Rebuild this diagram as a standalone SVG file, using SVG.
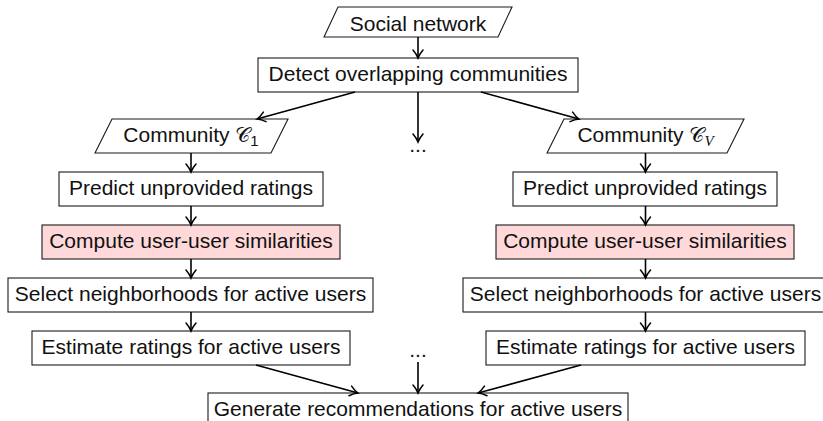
<svg xmlns="http://www.w3.org/2000/svg" width="823" height="421" viewBox="0 0 823 421">
  <style>
    .box { fill: #fff; stroke: #1a1a1a; stroke-width: 1.1; }
    .hl { fill: #ffd9d9; }
    .lbl { font-family: "Liberation Sans", Arial, sans-serif; font-size: 21px; fill: #111; text-anchor: middle; }
    .cal { font-family: "DejaVu Serif", "Noto Sans", serif; }
    .sub { font-size: 15px; }
    .it { font-family: "Liberation Serif", serif; font-style: italic; }
    .edge { stroke: #000; stroke-width: 1.6; fill: none; marker-end: url(#tip); }
  </style>
  <defs>
    <marker id="tip" viewBox="-10 -7 12 14" refX="0" refY="0" markerWidth="12" markerHeight="14" orient="auto" markerUnits="userSpaceOnUse">
      <path d="M-8,-5 C-5,-2.4 -1.6,-0.6 0,0 C-1.6,0.6 -5,2.4 -8,5" fill="none" stroke="#000" stroke-width="1.5" stroke-linecap="round"/>
    </marker>
  </defs>

  <rect width="823" height="421" fill="#fff"/>

  <!-- input -->
  <g id="social">
    <polygon class="box" points="324,37 338,7 512,7 498,37"/>
    <text class="lbl" x="418" y="30.5">Social network</text>
  </g>
  <g id="detect">
    <rect class="box" x="258" y="58" width="320" height="34"/>
    <text class="lbl" x="418" y="81">Detect overlapping communities</text>
  </g>

  <!-- first community branch -->
  <g id="community1">
    <polygon class="box" points="95,153 112,119 288,119 271,153"/>
    <text class="lbl" x="191" y="142">Community <tspan class="cal">𝒞</tspan><tspan class="sub" dy="4">1</tspan></text>
  </g>
  <g id="predict1">
    <rect class="box" x="59" y="172" width="264" height="34"/>
    <text class="lbl" x="191" y="195">Predict unprovided ratings</text>
  </g>
  <g id="similar1">
    <rect class="box hl" x="42" y="225" width="298" height="34"/>
    <text class="lbl" x="191" y="248">Compute user-user similarities</text>
  </g>
  <g id="neigh1">
    <rect class="box" x="8" y="278" width="365" height="34"/>
    <text class="lbl" x="190.5" y="301">Select neighborhoods for active users</text>
  </g>
  <g id="estimate1">
    <rect class="box" x="32" y="331" width="318" height="34"/>
    <text class="lbl" x="191" y="354">Estimate ratings for active users</text>
  </g>

  <!-- last community branch -->
  <g id="communityV">
    <polygon class="box" points="547,153 564,119 744,119 727,153"/>
    <text class="lbl" x="645.5" y="142">Community <tspan class="cal">𝒞</tspan><tspan class="sub it" dy="4">V</tspan></text>
  </g>
  <g id="predictV">
    <rect class="box" x="513" y="172" width="264" height="34"/>
    <text class="lbl" x="645" y="195">Predict unprovided ratings</text>
  </g>
  <g id="similarV">
    <rect class="box hl" x="496" y="225" width="298" height="34"/>
    <text class="lbl" x="645" y="248">Compute user-user similarities</text>
  </g>
  <g id="neighV">
    <rect class="box" x="463" y="278" width="365" height="34"/>
    <text class="lbl" x="645.5" y="301">Select neighborhoods for active users</text>
  </g>
  <g id="estimateV">
    <rect class="box" x="486" y="331" width="319" height="34"/>
    <text class="lbl" x="645.5" y="354">Estimate ratings for active users</text>
  </g>

  <!-- elided middle branches -->
  <g id="dotsTop">
    <text class="lbl" x="418" y="152">...</text>
  </g>
  <g id="dotsBottom">
    <text class="lbl" x="418" y="357">...</text>
  </g>

  <!-- output -->
  <g id="generate">
    <rect class="box" x="208" y="393" width="420" height="34"/>
    <text class="lbl" x="418" y="416">Generate recommendations for active users</text>
  </g>

  <!-- connectors -->
  <g id="edges">
    <line class="edge" x1="418" y1="37" x2="418" y2="58"/>
    <line class="edge" x1="355" y1="92" x2="257" y2="119"/>
    <line class="edge" x1="418" y1="92" x2="418" y2="142"/>
    <line class="edge" x1="481" y1="92" x2="579" y2="119"/>

    <line class="edge" x1="191" y1="153" x2="191" y2="172"/>
    <line class="edge" x1="191" y1="206" x2="191" y2="225"/>
    <line class="edge" x1="191" y1="259" x2="191" y2="278"/>
    <line class="edge" x1="191" y1="312" x2="191" y2="331"/>

    <line class="edge" x1="645.5" y1="153" x2="645.5" y2="172"/>
    <line class="edge" x1="645.5" y1="206" x2="645.5" y2="225"/>
    <line class="edge" x1="645.5" y1="259" x2="645.5" y2="278"/>
    <line class="edge" x1="645.5" y1="312" x2="645.5" y2="331"/>

    <line class="edge" x1="256" y1="365" x2="358" y2="393"/>
    <line class="edge" x1="418" y1="362" x2="418" y2="393"/>
    <line class="edge" x1="581" y1="365" x2="478" y2="393"/>
  </g>
</svg>
